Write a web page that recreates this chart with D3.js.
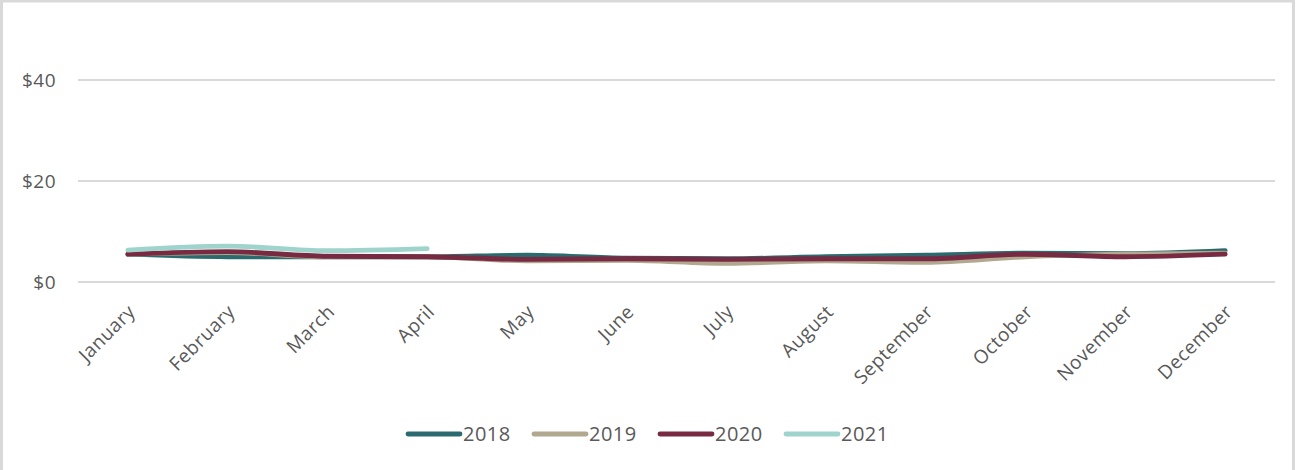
<!DOCTYPE html>
<html>
<head>
<meta charset="utf-8">
<script src="https://cdn.jsdelivr.net/npm/d3@7"></script>
<style>
html,body{margin:0;padding:0;background:#fff;}
svg{display:block;}
</style>
</head>
<body>
<svg id="chart" width="1296" height="470"></svg>
<script>
const months = ["January","February","March","April","May","June","July","August","September","October","November","December"];
const yTicks = [0, 20, 40];
const seriesNames = ["2018","2019","2020","2021"];
const values2018 = [5.5, 5.0, 5.0, 5.0, 5.3, 4.7, 4.6, 5.0, 5.3, 5.7, 5.6, 6.2];
const values2019 = [5.5, 5.8, 5.0, 5.0, 4.2, 4.3, 3.7, 4.2, 3.9, 5.0, 5.5, 5.7];
const values2020 = [5.5, 6.0, 5.1, 5.0, 4.5, 4.6, 4.5, 4.6, 4.6, 5.5, 5.0, 5.5];
const values2021 = [6.3, 7.1, 6.2, 6.6];
const colors = ["#2b6a6e", "#b2a88f", "#772a42", "#9fd4cc"];

const series = [values2018, values2019, values2020, values2021];

const svg = d3.select("#chart");
const W = 1296, H = 470;

// frame
svg.append("rect").attr("x", 1.5).attr("y", 1).attr("width", W - 4).attr("height", H + 10)
  .attr("fill", "#fff").attr("stroke", "#d9d9d9").attr("stroke-width", 3);

const x = d3.scalePoint().domain(months).range([78, 1275]).padding(0.5);
const y = d3.scaleLinear().domain([0, 40]).range([282, 80]);

// gridlines
const grid = svg.append("g");
grid.selectAll("line").data(yTicks).join("line")
  .attr("x1", 78).attr("x2", 1275)
  .attr("y1", d => y(d)).attr("y2", d => y(d))
  .attr("stroke", "#d9d9d9").attr("stroke-width", 2);

// y axis
const yAxis = svg.append("g").attr("transform", "translate(56,0)")
  .call(d3.axisLeft(y).tickValues(yTicks).tickSize(0).tickPadding(0).tickFormat(d => "$" + d));
yAxis.select(".domain").remove();
yAxis.selectAll("text").attr("font-family", "'Open Sans', sans-serif").attr("font-size", 19)
  .attr("fill", "#595959").attr("dy", "0.35em").attr("letter-spacing", 0.5);

// x axis
const xAxis = svg.append("g").attr("transform", "translate(0,282)")
  .call(d3.axisBottom(x).tickSize(0).tickPadding(0));
xAxis.select(".domain").remove();
xAxis.selectAll("text")
  .attr("font-family", "'Open Sans', sans-serif").attr("font-size", 19)
  .attr("fill", "#595959")
  .attr("text-anchor", "end")
  .attr("letter-spacing", 0.5)
  .attr("dy", "0")
  .attr("transform", "translate(8,31) rotate(-45)");

// lines
const line = d3.line()
  .x((d, i) => x(months[i]))
  .y(d => y(d))
  .curve(d3.curveMonotoneX);

svg.append("g").selectAll("path").data(series).join("path")
  .attr("d", d => line(d))
  .attr("fill", "none")
  .attr("stroke", (d, i) => colors[i])
  .attr("stroke-width", 4.8)
  .attr("stroke-linecap", "round")
  .attr("stroke-linejoin", "round");

// legend
const legendX = [408, 534, 660, 786];
const legend = svg.append("g");
seriesNames.forEach((name, i) => {
  const g = legend.append("g").attr("transform", `translate(${legendX[i]},434)`);
  g.append("line").attr("x1", 0).attr("x2", 52).attr("y1", 0).attr("y2", 0)
    .attr("stroke", colors[i]).attr("stroke-width", 4.8).attr("stroke-linecap", "round");
  g.append("text").attr("x", 55).attr("y", 0).attr("dy", "0.35em")
    .attr("font-family", "'Open Sans', sans-serif").attr("font-size", 20)
    .attr("letter-spacing", 0.5)
    .attr("fill", "#595959").text(name);
});
</script>
</body>
</html>
